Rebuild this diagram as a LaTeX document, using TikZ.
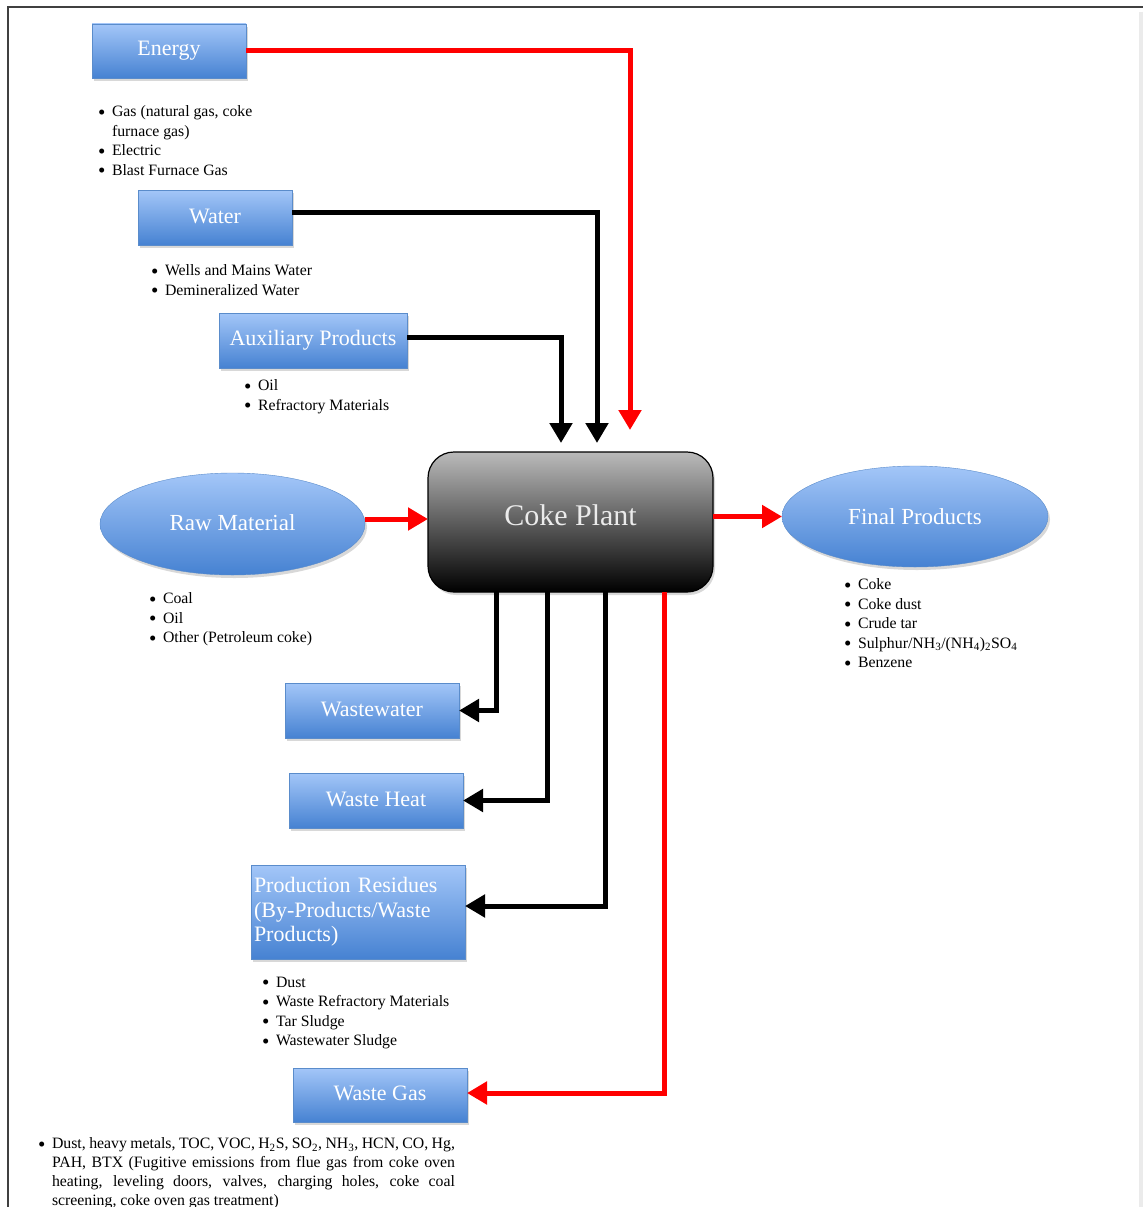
\documentclass[tikz,border=0pt]{standalone}
\usepackage{fontspec}
\setmainfont{Liberation Serif}
\usepackage{xcolor}
\usetikzlibrary{shapes.geometric, arrows.meta, positioning, shadows}

\definecolor{boxtop}{HTML}{A3C6F8}
\definecolor{boxbot}{HTML}{4682D2}
\definecolor{boxline}{HTML}{5A8CCB}
\newcommand{\bl}{\makebox[14pt][l]{\raisebox{-2.5pt}{\fontsize{21}{19.5}\selectfont\textbullet}}}
\newcommand{\cont}{\hspace*{14pt}}

\begin{document}
\begin{tikzpicture}[x=1pt, y=-1pt,
		    every node/.style={inner sep=0pt, outer sep=0pt},
		    bluebox/.style={draw=boxline, thin, top color=boxtop, bottom color=boxbot, text=white,
		        font=\fontsize{22}{24.5}\selectfont,
		        drop shadow={opacity=0.3, shadow xshift=2pt, shadow yshift=-3pt}},
		    blueoval/.style={bluebox, ellipse, font=\fontsize{23}{26}\selectfont},
		    listtext/.style={anchor=north west, align=left, font=\fontsize{15.8}{19.5}\selectfont},
		    redarrow/.style={draw=red, line width=5pt, -{Triangle[length=20pt, width=22pt]}},
		    blackarrow/.style={draw=black, line width=5pt, -{Triangle[length=20pt, width=22pt]}}
		]
		\tikzset{
		    plantbox/.style={draw=black, line width=1.2pt, rounded corners=26pt, top color=black!27, bottom color=black,
		        text=white!92!black, font=\fontsize{30}{34}\selectfont,
		        drop shadow={opacity=0.3, shadow xshift=2pt, shadow yshift=-3pt}}
		}
		\useasboundingbox (0,0) rectangle (1143,1207);
		\fill[white] (0,0) rectangle (1143,1207);
		\draw[black!8, line width=4pt] (1141,12) -- (1141,1207);
		\draw[black!75, line width=2pt] (8,1207) -- (8,7) -- (1143,7);

		\node[plantbox, minimum width=285pt, minimum height=140pt] (plant) at (570.5,522) {\raisebox{14pt}{Coke Plant}};

		\node[bluebox, minimum width=154pt, minimum height=54pt] (energy) at (169,51) {\raisebox{3pt}{Energy}};
		\node[listtext] (energylist) at (98,106) {\bl Gas (natural gas, coke\\ \cont furnace gas)\\ \bl Electric\\ \bl Blast Furnace Gas};

		\node[bluebox, minimum width=154pt, minimum height=55pt] (water) at (215,217.5) {\raisebox{2pt}{Water}};
		\node[listtext] (waterlist) at (151,265) {\bl Wells and Mains Water\\ \bl Demineralized Water};

		\node[bluebox, minimum width=188pt, minimum height=55pt] (aux) at (313,340.5) {\raisebox{2pt}{Auxiliary Products}};
		\node[listtext] (auxlist) at (244,380) {\bl Oil\\ \bl Refractory Materials};

		\node[blueoval, minimum width=265pt, minimum height=102pt] (raw) at (232.5,524) {\raisebox{2pt}{Raw Material}};
		\node[listtext] (rawlist) at (149,593) {\bl Coal\\ \bl Oil\\ \bl Other (Petroleum coke)};

		\node[blueoval, minimum width=266pt, minimum height=101pt] (final) at (915,516.5) {Final Products};
		\node[listtext] (finallist) at (844,579) {\bl Coke\\ \bl Coke dust\\ \bl Crude tar\\
		    \bl Sulphur/NH\textsubscript{3}/(NH\textsubscript{4})\textsubscript{2}SO\textsubscript{4}\\ \bl Benzene};

		\node[bluebox, minimum width=174pt, minimum height=55pt] (wastewater) at (372,710.5) {\raisebox{3pt}{Wastewater}};
		\node[bluebox, minimum width=174pt, minimum height=55pt] (wasteheat) at (376,800.5) {\raisebox{3pt}{Waste Heat}};
		\node[bluebox, text width=208pt, inner xsep=3pt, minimum height=94pt, align=left] (residues) at (358,912)
		    {Production Residues\\ (By-Products/Waste\\ Products)};
		\node[listtext] (residuelist) at (262,977) {\bl Dust\\ \bl Waste Refractory Materials\\ \bl Tar Sludge\\ \bl Wastewater Sludge};

		\node[bluebox, minimum width=174pt, minimum height=54pt] (wastegas) at (380,1095) {\raisebox{3pt}{Waste Gas}};
		\node[listtext, text width=417pt, align=justify, font=\fontsize{15.8}{18.7}\selectfont] (gaslist) at (38,1138)
		    {\hangindent=14pt\hangafter=1\noindent\bl Dust, heavy metals, TOC, VOC, H\textsubscript{2}S, SO\textsubscript{2}, NH\textsubscript{3}, HCN, CO, Hg,\linebreak
		    PAH, BTX (Fugitive emissions from flue gas from coke oven\linebreak
		    heating, leveling doors, valves, charging holes, coke coal\linebreak
		    screening, coke oven gas treatment)\par};

		\draw[redarrow] (energy.east) -| ([xshift=59.5pt, yshift=22pt]plant.north);
		\draw[blackarrow] ([yshift=5pt]water.east) -| ([xshift=26.5pt, yshift=9pt]plant.north);
		\draw[blackarrow] ([yshift=3pt]aux.east) -| ([xshift=-9.5pt, yshift=9pt]plant.north);
		\draw[redarrow] ([yshift=5pt]raw.east) -- ([yshift=5pt]raw.east -| plant.west);
		\draw[redarrow] (plant.east |- final.west) -- (final.west);
		\draw[blackarrow] ([xshift=-74.5pt]plant.south) |- (wastewater.east);
		\draw[blackarrow] ([xshift=-23.5pt]plant.south) |- (wasteheat.east);
		\draw[blackarrow] ([xshift=34.5pt]plant.south) |- ([yshift=6pt]residues.east);
		\draw[redarrow] ([xshift=93.5pt]plant.south) |- ([yshift=2pt]wastegas.east);
		\end{tikzpicture}
\end{document}
